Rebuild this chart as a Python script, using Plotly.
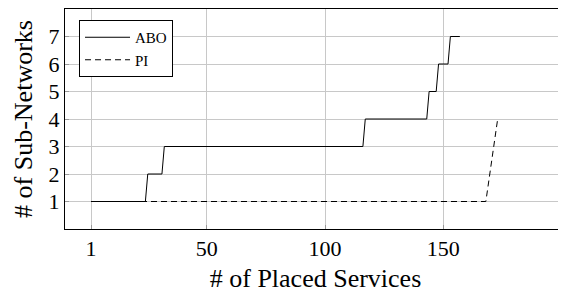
import plotly.graph_objects as go

# Data
abo_x = [1, 24, 25, 31, 32, 116, 117, 143, 144, 147, 148, 152, 153, 157]
abo_y = [1, 1, 2, 2, 3, 3, 4, 4, 5, 5, 6, 6, 7, 7]
pi_x = [1, 168, 173]
pi_y = [1, 1, 4]
x_ticks = [1, 50, 100, 150]
y_ticks = [1, 2, 3, 4, 5, 6, 7]

FONT = "Liberation Serif"

fig = go.Figure()
fig.add_trace(go.Scatter(x=abo_x, y=abo_y, mode="lines", name="ABO",
                         legendgroup="a",
                         line=dict(color="black", width=1)))
fig.add_trace(go.Scatter(x=pi_x, y=pi_y, mode="lines", name="PI",
                         legendgroup="b",
                         line=dict(color="black", width=1, dash="6px,4px")))

# page body has an 8px default margin: size the figure to fit the window
fig.update_layout(
    width=558, height=285,
    margin=dict(l=57, r=0, t=1, b=64, autoexpand=False),
    plot_bgcolor="white", paper_bgcolor="white",
    font=dict(family=FONT, color="black", size=22),
    showlegend=True,
    legend=dict(x=0.028, y=0.95, xanchor="left", yanchor="top",
                bordercolor="black", borderwidth=1, bgcolor="white",
                font=dict(family=FONT, size=15, color="black"),
                itemwidth=45,
                tracegroupgap=0, traceorder="grouped"),
    xaxis=dict(range=[-10, 201.9], tickvals=x_ticks, ticktext=[str(v) for v in x_ticks],
               showgrid=True, gridcolor="#c8c8c8", gridwidth=1,
               showline=True, linecolor="black", linewidth=1, mirror=True,
               ticks="inside", ticklen=4, tickcolor="#999999",
               zeroline=False, tickfont=dict(size=22),
               title=dict(text="# of Placed Services", font=dict(size=26), standoff=8)),
    yaxis=dict(range=[0, 8], tickvals=y_ticks, ticktext=[str(v) for v in y_ticks],
               showgrid=True, gridcolor="#c8c8c8", gridwidth=1,
               showline=True, linecolor="black", linewidth=1,
               ticks="inside", ticklen=4, tickcolor="#999999",
               zeroline=False, tickfont=dict(size=22),
               title=dict(text="# of Sub-Networks", font=dict(size=26), standoff=8)),
)

fig.write_html("out.html")
